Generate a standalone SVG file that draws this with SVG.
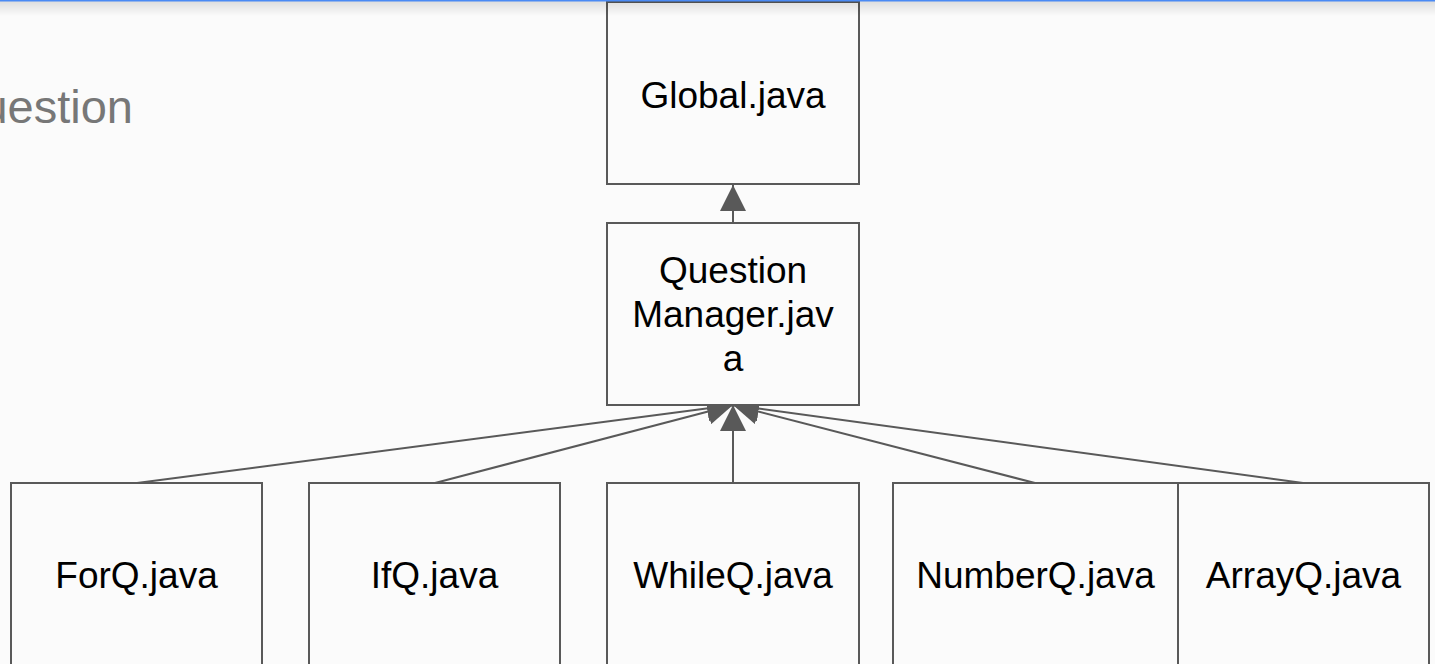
<svg xmlns="http://www.w3.org/2000/svg" width="1435" height="664" viewBox="0 0 1435 664">
  <style>
    .box { fill: #fbfbfb; stroke: #595959; stroke-width: 2; }
    .lbl { font-family: "Liberation Sans", Arial, sans-serif; font-size: 37px; fill: #000000; text-anchor: middle; }
    .conn { stroke: #595959; stroke-width: 2; fill: none; marker-end: url(#arrow); }
  </style>
  <defs>
    <marker id="arrow" markerUnits="userSpaceOnUse" markerWidth="26" markerHeight="26" refX="26" refY="13" orient="auto" viewBox="0 0 26 26">
      <path d="M0,0 L26,13 L0,26 z" fill="#595959"/>
    </marker>
    <linearGradient id="shadow" x1="0" y1="0" x2="0" y2="1">
      <stop offset="0" stop-color="#000000" stop-opacity="0.12"/>
      <stop offset="1" stop-color="#000000" stop-opacity="0"/>
    </linearGradient>
  </defs>
  <rect x="0" y="0" width="1435" height="664" fill="#fbfbfb"/>
  <text x="133" y="123" font-family="Liberation Sans, Arial, sans-serif" font-size="47" fill="#777777" text-anchor="end">uestion</text>

  <g id="connectors">
    <line class="conn" x1="733" y1="223" x2="733" y2="185"/>
    <line class="conn" x1="137" y1="483" x2="733" y2="405"/>
    <line class="conn" x1="435" y1="483" x2="733" y2="405"/>
    <line class="conn" x1="733" y1="483" x2="733" y2="405"/>
    <line class="conn" x1="1035" y1="483" x2="733" y2="405"/>
    <line class="conn" x1="1303" y1="483" x2="733" y2="405"/>
  </g>

  <g id="global">
    <rect class="box" x="607" y="2" width="252" height="182"/>
    <text class="lbl" x="733" y="108">Global.java</text>
  </g>
  <g id="questionmanager">
    <rect class="box" x="607" y="223" width="252" height="182"/>
    <text class="lbl" x="733" y="283">Question</text>
    <text class="lbl" x="733" y="327">Manager.jav</text>
    <text class="lbl" x="733" y="371">a</text>
  </g>
  <g id="forq">
    <rect class="box" x="11" y="483" width="251" height="200"/>
    <text class="lbl" x="136.5" y="588">ForQ.java</text>
  </g>
  <g id="ifq">
    <rect class="box" x="309" y="483" width="251" height="200"/>
    <text class="lbl" x="434.5" y="588">IfQ.java</text>
  </g>
  <g id="whileq">
    <rect class="box" x="607" y="483" width="252" height="200"/>
    <text class="lbl" x="733" y="588">WhileQ.java</text>
  </g>
  <g id="numberq">
    <rect class="box" x="893" y="483" width="285" height="200"/>
    <text class="lbl" x="1035.5" y="588">NumberQ.java</text>
  </g>
  <g id="arrayq">
    <rect class="box" x="1178" y="483" width="251" height="200"/>
    <text class="lbl" x="1303.5" y="588">ArrayQ.java</text>
  </g>

  <rect x="0" y="1" width="1435" height="15" fill="url(#shadow)"/>
  <rect x="0" y="0" width="1435" height="1.5" fill="#4a8af4"/>
</svg>
